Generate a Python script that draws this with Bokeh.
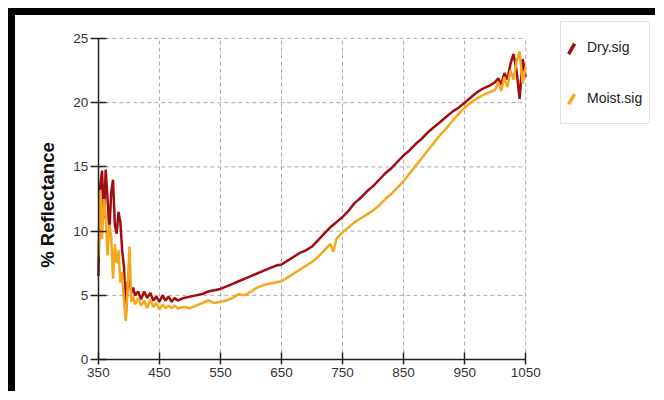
import math
from bokeh.plotting import figure
from bokeh.models import Range1d, Legend, LegendItem, FixedTicker, Arrow, Label
from bokeh.embed import file_html
from bokeh.resources import INLINE

# ---- data ----
wavelength = [350, 353, 356, 359, 362, 365, 368, 371, 374, 377,
              380, 383, 386, 389, 392, 395, 398, 401, 404, 407,
              410, 415, 420, 425, 430, 435, 440, 445, 450, 455,
              460, 465, 470, 475, 480, 490, 500, 510, 520, 530,
              540, 550, 560, 570, 580, 590, 600, 610, 620, 630,
              640, 650, 660, 670, 680, 690, 700, 710, 720, 730,
              735, 740, 750, 760, 770, 780, 790, 800, 810, 820,
              830, 840, 850, 860, 870, 880, 890, 900, 910, 920,
              930, 940, 950, 960, 970, 980, 990, 1000, 1005, 1010,
              1015, 1020, 1025, 1030, 1035, 1040, 1045, 1050]
dry_sig = [6.5, 13.5, 14.7, 11.0, 14.8, 12.5, 10.0, 13.0, 14.0, 10.5,
           9.8, 11.5, 10.7, 8.5, 7.2, 3.5, 6.0, 6.3, 5.2, 5.6,
           5.0, 5.3, 4.7, 5.3, 4.8, 5.2, 4.6, 4.9, 4.5, 5.0,
           4.6, 4.9, 4.5, 4.8, 4.6, 4.8, 4.9, 5.0, 5.1, 5.3,
           5.4, 5.5, 5.7, 5.9, 6.1, 6.3, 6.5, 6.7, 6.9, 7.1,
           7.3, 7.4, 7.7, 8.0, 8.3, 8.5, 8.8, 9.3, 9.8, 10.3,
           10.5, 10.7, 11.1, 11.6, 12.2, 12.6, 13.1, 13.5, 14.0, 14.5,
           14.9, 15.4, 15.9, 16.3, 16.8, 17.2, 17.7, 18.1, 18.5, 18.9,
           19.3, 19.6, 20.0, 20.4, 20.8, 21.1, 21.3, 21.6, 21.9, 21.4,
           22.3, 21.8, 23.0, 23.8, 22.5, 20.3, 23.4, 22.0]
moist_sig = [8.0, 13.2, 9.4, 12.5, 11.2, 8.1, 10.5, 9.6, 6.3, 9.0,
             7.5, 8.5, 6.0, 6.8, 4.5, 3.0, 5.7, 8.8, 4.5, 4.9,
             4.3, 4.8, 4.2, 4.6, 4.0, 4.7, 4.1, 4.4, 3.9, 4.3,
             4.0, 4.2, 4.0, 4.2, 4.0, 4.1, 4.0, 4.2, 4.4, 4.6,
             4.4, 4.5, 4.6, 4.8, 5.1, 5.0, 5.3, 5.6, 5.8, 5.9,
             6.0, 6.1, 6.4, 6.7, 7.0, 7.3, 7.6, 8.0, 8.5, 9.0,
             8.4, 9.4, 9.9, 10.3, 10.7, 11.0, 11.3, 11.6, 12.0, 12.5,
             12.9, 13.4, 13.9, 14.5, 15.1, 15.7, 16.3, 16.9, 17.5, 18.0,
             18.6, 19.1, 19.6, 20.0, 20.3, 20.6, 20.8, 21.0, 21.6, 20.9,
             22.0, 21.2, 22.5, 21.8, 23.2, 24.0, 21.5, 22.8]
series_labels = ["Dry.sig", "Moist.sig"]
x_ticks = [350, 450, 550, 650, 750, 850, 950, 1050]
y_ticks = [0, 5, 10, 15, 20, 25]
y_title = "% Reflectance"

DRY = "#a00d10"
MOIST = "#f5a81e"
FONT = "Liberation Sans"
X0, X1, Y0, Y1 = x_ticks[0], x_ticks[-1], y_ticks[0], y_ticks[-1]

# ---- layout, in page pixels ----
CX, CY = 15, 15            # canvas top-left (8px offset + 7px black border)
W, H = 648, 384            # wanted canvas size (black bars run to the window edges)
SIZE_FIX = 8               # the content-box host adds this much to the canvas
PX_X0, PX_X1 = 98, 526     # page x of 350 and 1050
PX_Y0, PX_Y1 = 360, 38     # page y of 0 and 25
F_LEFT, F_RIGHT, F_TOP, F_BOTTOM = 17, 654, 17, 390   # frame covers (almost) the canvas
kx = (X1 - X0) / (PX_X1 - PX_X0)
ky = (Y1 - Y0) / (PX_Y0 - PX_Y1)


def px2x(px):
    return X0 + (px - PX_X0) * kx


def py2y(py):
    return Y0 + (PX_Y0 - py) * ky


p = figure(width=W - SIZE_FIX, height=H - SIZE_FIX, output_backend="svg", toolbar_location=None,
           x_range=Range1d(px2x(F_LEFT), px2x(F_RIGHT)),
           y_range=Range1d(py2y(F_BOTTOM), py2y(F_TOP)),
           min_border_left=F_LEFT - CX, min_border_right=CX + W - F_RIGHT,
           min_border_top=F_TOP - CY, min_border_bottom=CY + H - F_BOTTOM)
p.styles = {"position": "relative", "left": "8px", "top": "8px",
            "border-top": "7px solid #000", "border-left": "7px solid #000",
            "box-sizing": "content-box"}
p.outline_line_color = None
p.background_fill_color = "white"
p.border_fill_color = "white"
p.xgrid.visible = False
p.ygrid.visible = False

# dashed grid restricted to the axes' extent
p.segment(x0=x_ticks[1:], y0=[Y0] * (len(x_ticks) - 1), x1=x_ticks[1:], y1=[Y1] * (len(x_ticks) - 1),
          line_color="#aaaaaa", line_dash="4 3", line_width=1)
p.segment(x0=[X0] * (len(y_ticks) - 1), y0=y_ticks[1:], x1=[X1] * (len(y_ticks) - 1), y1=y_ticks[1:],
          line_color="#aaaaaa", line_dash="4 3", line_width=1)

for ax, ticks, bnd in ((p.xaxis[0], x_ticks, (X0, X1)), (p.yaxis[0], y_ticks, (Y0, Y1))):
    ax.ticker = FixedTicker(ticks=ticks)
    ax.bounds = bnd
    ax.axis_line_color = "#222222"
    ax.axis_line_width = 1.5
    ax.major_tick_line_color = "#222222"
    ax.major_tick_line_width = 1.5
    ax.minor_tick_line_color = None
    ax.major_label_text_font = FONT
    ax.major_label_text_font_size = "13.5px"
    ax.major_label_text_color = "#333333"

p.xaxis.fixed_location = Y0
p.yaxis.fixed_location = X0
p.xaxis.major_tick_in = 7
p.xaxis.major_tick_out = 5
p.xaxis.major_label_standoff = 3
p.yaxis.major_tick_in = 8
p.yaxis.major_tick_out = 8
p.yaxis.major_label_standoff = 2

# y-axis title as a rotated label, placed where the reference has it
p.add_layout(Label(x=px2x(47), y=py2y(205), text=y_title, angle=math.pi / 2,
                   text_align="center", text_baseline="middle",
                   text_font=FONT, text_font_style="bold", text_font_size="18.5px",
                   text_color="#111111"))

p.line(wavelength, dry_sig, line_color=DRY, line_width=2.5)
p.line(wavelength, moist_sig, line_color=MOIST, line_width=2.5)

# legend (box + labels); its glyphs are drawn as slashes below
nan = float("nan")
d1 = p.line([nan], [nan], line_alpha=0)
d2 = p.line([nan], [nan], line_alpha=0)
LEG_L, LEG_T, PAD, ITEM_H, SP = 560, 24, 3, 44, 7
leg_h = 2 * PAD + 2 * ITEM_H + SP
legend = Legend(items=[LegendItem(label=series_labels[0], renderers=[d1]),
                       LegendItem(label=series_labels[1], renderers=[d2])],
                location=(LEG_L - F_LEFT, F_BOTTOM - (LEG_T + leg_h)),
                orientation="vertical", margin=0, padding=PAD,
                glyph_width=20, glyph_height=ITEM_H, label_height=ITEM_H, spacing=SP,
                label_standoff=3, label_width=59,
                label_text_font=FONT, label_text_font_size="14px",
                label_text_color="#222222",
                border_line_color="#c4c4c4", border_line_width=1.2,
                background_fill_alpha=0)
p.add_layout(legend, "center")

for color, cy in ((DRY, 48.5), (MOIST, 99)):
    cx = 572
    p.add_layout(Arrow(start=None, end=None, level="overlay",
                       x_start=px2x(cx - 3), y_start=py2y(cy + 5.2),
                       x_end=px2x(cx + 3), y_end=py2y(cy - 5.2),
                       line_color=color, line_width=3.5))

open("out.html", "w").write(file_html(p, INLINE))
